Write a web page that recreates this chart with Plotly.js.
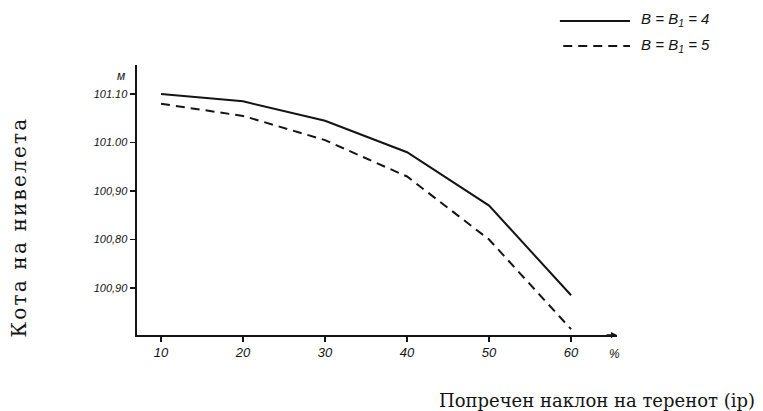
<!DOCTYPE html>
<html>
<head>
<meta charset="utf-8">
<script src="https://cdn.plot.ly/plotly-3.0.1.min.js"></script>
<style>html,body{margin:0;padding:0;background:#fff;}#chart{width:763px;height:411px;}</style>
</head>
<body>
<div id="chart"></div>
<script>
const slope = [10, 20, 30, 40, 50, 60];
const seriesB4 = [101.10, 101.085, 101.045, 100.98, 100.87, 100.685];
const seriesB5 = [101.08, 101.055, 101.005, 100.93, 100.80, 100.615];
const xTickVals = [10, 20, 30, 40, 50, 60];
const xTickText = ['10', '20', '30', '40', '50', '60'];
const yTickVals = [101.10, 101.00, 100.90, 100.80, 100.70];
const yTickText = ['101.10', '101.00', '100,90', '100,80', '100,90'];
const legendB4 = '<i>B</i> = <i>B</i><sub>1</sub> = 4';
const legendB5 = '<i>B</i> = <i>B</i><sub>1</sub> = 5';

const ink = '#141414';

const traces = [
  {x: slope, y: seriesB4, mode: 'lines', line: {color: ink, width: 2}, showlegend: false},
  {x: slope, y: seriesB5, mode: 'lines', line: {color: ink, width: 2, dash: '9px,6px'}, showlegend: false}
];

const tickFontY = {family: 'Liberation Sans', size: 11, color: ink, style: 'italic'};
const tickFontX = {family: 'Liberation Sans', size: 13, color: ink, style: 'italic'};

const layout = {
  width: 763, height: 411,
  margin: {l: 137, r: 146, t: 65, b: 76},
  paper_bgcolor: '#fff', plot_bgcolor: '#fff',
  xaxis: {
    range: [7.07, 65.6], showgrid: false, zeroline: false,
    showline: true, linecolor: ink, linewidth: 1.5,
    ticks: 'outside', ticklen: 5, tickwidth: 1.2, tickcolor: ink,
    tickvals: xTickVals, ticktext: xTickText, tickfont: tickFontX
  },
  yaxis: {
    range: [100.603, 101.16], showgrid: false, zeroline: false,
    showline: true, linecolor: ink, linewidth: 2.5,
    ticks: 'outside', ticklen: 5, tickwidth: 1.2, tickcolor: ink,
    tickvals: yTickVals, ticktext: yTickText, tickfont: tickFontY
  },
  shapes: [
    {type: 'line', xref: 'paper', yref: 'paper', x0: 0.881, x1: 1.027, y0: 1.163, y1: 1.163, line: {color: ink, width: 2}},
    {type: 'line', xref: 'paper', yref: 'paper', x0: 0.888, x1: 1.027, y0: 1.07, y1: 1.07, line: {color: ink, width: 2, dash: '9px,6px'}}
  ],
  annotations: [
    {xref: 'paper', yref: 'paper', x: 1.046, y: 1.17, xanchor: 'left', yanchor: 'middle', showarrow: false,
     text: legendB4, font: {family: 'Liberation Sans', size: 15, color: ink, style: 'italic'}},
    {xref: 'paper', yref: 'paper', x: 1.046, y: 1.074, xanchor: 'left', yanchor: 'middle', showarrow: false,
     text: legendB5, font: {family: 'Liberation Sans', size: 15, color: ink, style: 'italic'}},
    {xref: 'paper', yref: 'paper', x: -0.033, y: 0.959, xanchor: 'center', yanchor: 'middle', showarrow: false,
     text: 'м', font: {family: 'Liberation Sans', size: 12, color: ink, style: 'italic'}},
    {xref: 'paper', yref: 'paper', x: 0.994, y: -0.07, xanchor: 'center', yanchor: 'middle', showarrow: false,
     text: '%', font: {family: 'Liberation Sans', size: 12, color: ink, style: 'italic'}},
    {xref: 'paper', yref: 'paper', x: 1.2917, y: -0.241, xanchor: 'right', yanchor: 'middle', showarrow: false,
     text: 'Попречен наклон на теренот (ip)', font: {family: 'DejaVu Serif', size: 18, color: ink}},
    {xref: 'paper', yref: 'paper', x: -0.246, y: 0.4, xanchor: 'center', yanchor: 'middle', showarrow: false, textangle: -90,
     text: 'Кота на нивелета', font: {family: 'DejaVu Serif', size: 20, color: ink}},
    {xref: 'paper', yref: 'paper', x: 1.0, y: 0, ax: -12, ay: 0, showarrow: true, arrowhead: 2, arrowsize: 0.8, arrowwidth: 1.5, arrowcolor: ink, text: ''}
  ]
};

Plotly.newPlot('chart', traces, layout, {staticPlot: true, displayModeBar: false}).then(function () {
  document.querySelectorAll('.annotation-text').forEach(function (t) {
    if (t.textContent === 'Кота на нивелета') {
      t.style.letterSpacing = '2.2px';
    }
  });
});
</script>
</body>
</html>
